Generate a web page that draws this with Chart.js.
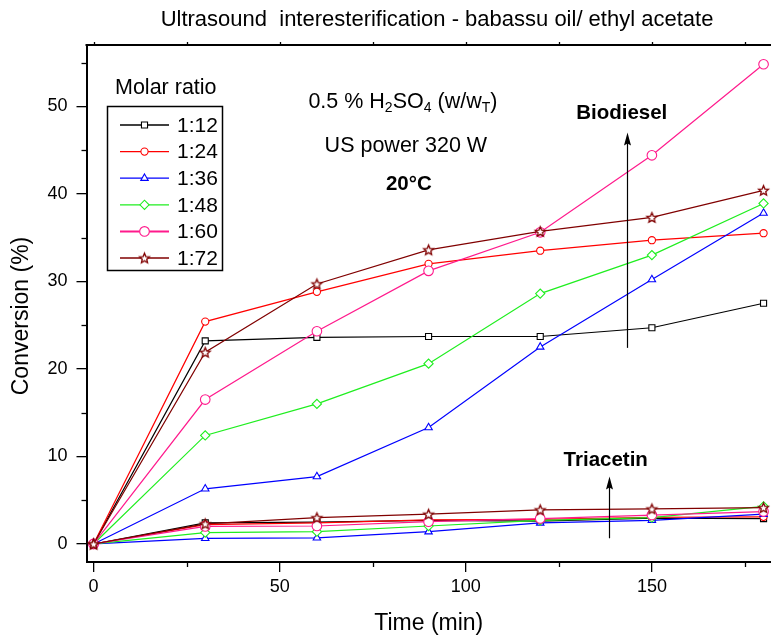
<!DOCTYPE html>
<html><head><meta charset="utf-8">
<script src="https://cdn.jsdelivr.net/npm/chart.js@4/dist/chart.umd.min.js"></script>
<style>html,body{margin:0;padding:0;background:#fff}canvas{display:block}</style>
</head><body>
<canvas id="c" width="771" height="635"></canvas>
<script>
// ---------- data ----------
const timeMin = [0, 30, 60, 90, 120, 150, 180];
const seriesLabels = ['1:12', '1:24', '1:36', '1:48', '1:60', '1:72'];

const biodiesel_1_12 = [0, 23.2, 23.6, 23.7, 23.7, 24.7, 27.5];
const biodiesel_1_24 = [0, 25.4, 28.8, 32.0, 33.5, 34.7, 35.5];
const biodiesel_1_36 = [0, 6.3, 7.7, 13.3, 22.5, 30.2, 37.8];
const biodiesel_1_48 = [0, 12.4, 16.0, 20.6, 28.6, 33.0, 38.9];
const biodiesel_1_60 = [0, 16.5, 24.3, 31.2, 35.6, 44.4, 54.8];
const biodiesel_1_72 = [0, 21.9, 29.7, 33.6, 35.7, 37.3, 40.4];

const triacetin_1_12 = [0, 2.4, 2.5, 2.7, 2.6, 2.95, 2.9];
const triacetin_1_24 = [0, 2.2, 2.4, 2.75, 2.8, 3.05, 3.1];
const triacetin_1_36 = [0, 0.65, 0.7, 1.4, 2.4, 2.7, 3.4];
const triacetin_1_48 = [0, 1.3, 1.4, 2.05, 2.7, 3.0, 4.3];
const triacetin_1_60 = [0, 2.0, 2.05, 2.55, 2.9, 3.3, 3.7];
const triacetin_1_72 = [0, 2.3, 3.0, 3.4, 3.9, 4.0, 4.15];

const xTickValues = [0, 50, 100, 150];
const xMinorTicks = [25, 75, 125, 175];
const yTickValues = [0, 10, 20, 30, 40, 50];
const yMinorTicks = [5, 15, 25, 35, 45, 55];

const chartTitle = 'Ultrasound  interesterification - babassu oil/ ethyl acetate';
const xTitle = 'Time (min)';
const yTitle = 'Conversion (%)';
const legendTitle = 'Molar ratio';

// ---------- styles ----------
const colors = ['#000000', '#ff0000', '#0000ff', '#1fee1f', '#ff1a8c', '#800000'];
function makeStar(r, color) {
  const s = Math.ceil(r * 2 + 4);
  const c = document.createElement('canvas'); c.width = c.height = s;
  const g = c.getContext('2d'); g.translate(s / 2, s / 2 + 0.5); g.beginPath();
  for (let k = 0; k < 10; k++) {
    const rr = k % 2 ? r * 0.45 : r; const a = -Math.PI / 2 + k * Math.PI / 5;
    g.lineTo(rr * Math.cos(a), rr * Math.sin(a));
  }
  g.closePath(); g.fillStyle = '#fff'; g.fill(); g.strokeStyle = color; g.lineWidth = 1.3; g.stroke();
  return c;
}
const starImg = makeStar(5.2, colors[5]);
const pointStyles = ['rect', 'circle', 'triangle', 'rectRot', 'circle', starImg];
const pointRadii = [4.3, 3.6, 4.3, 4.6, 4.8, 5];

const biodieselSeries = [biodiesel_1_12, biodiesel_1_24, biodiesel_1_36, biodiesel_1_48, biodiesel_1_60, biodiesel_1_72];
const triacetinSeries = [triacetin_1_12, triacetin_1_24, triacetin_1_36, triacetin_1_48, triacetin_1_60, triacetin_1_72];

function mkDataset(vals, i, kind) {
  return {
    label: seriesLabels[i] + ' ' + kind,
    data: timeMin.map((t, k) => ({ x: t, y: vals[k] })),
    borderColor: colors[i], backgroundColor: '#ffffff',
    pointBackgroundColor: '#ffffff', pointBorderColor: colors[i],
    pointStyle: pointStyles[i], pointRadius: pointRadii[i], pointBorderWidth: 1.1,
    borderWidth: 1.2, tension: 0, clip: false, order: 20 - i
  };
}
const datasets = [];
biodieselSeries.forEach((v, i) => datasets.push(mkDataset(v, i, 'biodiesel')));
triacetinSeries.forEach((v, i) => datasets.push(mkDataset(v, i, 'triacetin')));

const FONT = '"Liberation Sans", Arial, sans-serif';

// annotation anchors in data units
const arrowBiodiesel = { x: 143.3, y0: 22.4, y1: 47.0 };
const arrowTriacetin = { x: 138.4, y0: 0.65, y1: 7.7 };

const decor = {
  id: 'decor',
  afterDraw(chart) {
    const ctx = chart.ctx, xs = chart.scales.x, ys = chart.scales.y, a = chart.chartArea;
    ctx.save();
    ctx.strokeStyle = '#000'; ctx.fillStyle = '#000';
    // top frame
    ctx.lineWidth = 2;
    ctx.beginPath(); ctx.moveTo(a.left - 1, a.top); ctx.lineTo(a.right, a.top); ctx.stroke();
    ctx.lineWidth = 1.3;
    [...xTickValues, ...xMinorTicks].forEach(v => {
      const px = Math.round(xs.getPixelForValue(v)) + 0.5;
      ctx.beginPath(); ctx.moveTo(px, a.top); ctx.lineTo(px, a.top - 3); ctx.stroke();
    });
    // minor ticks
    xMinorTicks.forEach(v => {
      const px = Math.round(xs.getPixelForValue(v)) + 0.5;
      ctx.beginPath(); ctx.moveTo(px, a.bottom); ctx.lineTo(px, a.bottom + 5); ctx.stroke();
    });
    yMinorTicks.forEach(v => {
      const py = Math.round(ys.getPixelForValue(v)) + 0.5;
      ctx.beginPath(); ctx.moveTo(a.left, py); ctx.lineTo(a.left - 5, py); ctx.stroke();
    });
    // chart title
    ctx.font = '22px ' + FONT; ctx.textAlign = 'center'; ctx.textBaseline = 'middle';
    ctx.fillText(chartTitle, 437, 20);
    // y title
    ctx.save(); ctx.translate(22, 316); ctx.rotate(-Math.PI / 2);
    ctx.font = '23px ' + FONT; ctx.fillText(yTitle, 0, 0); ctx.restore();

    // condition annotations
    const drawRuns = (runs, cx, cy) => {
      let w = 0;
      runs.forEach(r => { ctx.font = r.f; w += ctx.measureText(r.t).width; });
      let x = cx - w / 2; ctx.textAlign = 'left';
      runs.forEach(r => { ctx.font = r.f; ctx.fillText(r.t, x, cy + (r.dy || 0)); x += ctx.measureText(r.t).width; });
    };
    const big = '21.5px ' + FONT, sub = '14px ' + FONT;
    drawRuns([{ t: '0.5 % H', f: big }, { t: '2', f: sub, dy: 6 }, { t: 'SO', f: big }, { t: '4', f: sub, dy: 6 },
              { t: ' (w/w', f: big }, { t: 'T', f: sub, dy: 6 }, { t: ')', f: big }],
      xs.getPixelForValue(83.1), ys.getPixelForValue(50.5));
    ctx.textAlign = 'center';
    ctx.font = '21.5px ' + FONT;
    ctx.fillText('US power 320 W', xs.getPixelForValue(83.9), ys.getPixelForValue(45.4));
    ctx.font = 'bold 20.5px ' + FONT;
    ctx.fillText('20°C', xs.getPixelForValue(84.7), ys.getPixelForValue(41.1));
    ctx.fillText('Biodiesel', xs.getPixelForValue(141.9), ys.getPixelForValue(49.2));
    ctx.fillText('Triacetin', xs.getPixelForValue(137.6), ys.getPixelForValue(9.5));

    // arrows
    const arrow = (ar) => {
      const x = Math.round(xs.getPixelForValue(ar.x)) + 0.5;
      const yb = ys.getPixelForValue(ar.y0), yt = ys.getPixelForValue(ar.y1);
      ctx.lineWidth = 1.2;
      ctx.beginPath(); ctx.moveTo(x, yb); ctx.lineTo(x, yt + 8); ctx.stroke();
      ctx.beginPath(); ctx.moveTo(x, yt); ctx.lineTo(x - 3.5, yt + 13); ctx.lineTo(x, yt + 11); ctx.lineTo(x + 3.5, yt + 13);
      ctx.closePath(); ctx.fill();
    };
    arrow(arrowBiodiesel); arrow(arrowTriacetin);

    // legend
    ctx.font = '21.5px ' + FONT; ctx.textAlign = 'left'; ctx.textBaseline = 'middle';
    ctx.fillText(legendTitle, 115, 88);
    ctx.lineWidth = 1.5;
    ctx.strokeRect(107.5, 106.5, 115, 164);
    seriesLabels.forEach((lab, i) => {
      const y = 125 + i * 26.6;
      ctx.strokeStyle = colors[i]; ctx.lineWidth = i === 4 ? 2 : 1.3;
      ctx.beginPath(); ctx.moveTo(120, y); ctx.lineTo(169, y); ctx.stroke();
      const ds = chart.data.datasets[i];
      ctx.fillStyle = '#fff'; ctx.lineWidth = 1.1;
      Chart.helpers.drawPoint(ctx, { pointStyle: ds.pointStyle, radius: ds.pointRadius, borderWidth: 1.1, rotation: 0 }, 144.5, y);
      ctx.fillStyle = '#000';
      ctx.font = '21px ' + FONT;
      ctx.fillText(lab, 177, y + 1);
    });
    ctx.restore();
  }
};

new Chart(document.getElementById('c'), {
  type: 'line',
  data: { datasets },
  options: {
    responsive: false, animation: false, devicePixelRatio: 1,
    layout: { autoPadding: false, padding: { top: 45, right: 0, left: 0, bottom: 0 } },
    plugins: { legend: { display: false }, tooltip: { enabled: false }, title: { display: false } },
    scales: {
      x: {
        type: 'linear', min: -1.9, max: 182,
        afterFit: s => { s.height = 73; },
        afterBuildTicks: s => { s.ticks = xTickValues.map(v => ({ value: v })); },
        ticks: { color: '#000', font: { size: 18, family: FONT }, padding: 4, maxRotation: 0, autoSkip: false },
        grid: { display: true, drawOnChartArea: false, drawTicks: true, tickLength: 10, color: '#000', lineWidth: 1.3 },
        border: { display: true, color: '#000', width: 2 },
        title: { display: true, text: xTitle, color: '#000', font: { size: 23, family: FONT, lineHeight: 1 }, padding: { top: 0, bottom: 0 } }
      },
      y: {
        type: 'linear', min: -2.06, max: 57,
        afterFit: s => { s.width = 86.5; },
        afterBuildTicks: s => { s.ticks = yTickValues.map(v => ({ value: v })); },
        ticks: { color: '#000', font: { size: 18, family: FONT }, padding: 9, autoSkip: false },
        grid: { display: true, drawOnChartArea: false, drawTicks: true, tickLength: 10, color: '#000', lineWidth: 1.3 },
        border: { display: true, color: '#000', width: 2 }
      }
    }
  },
  plugins: [decor]
});
</script>
</body></html>
